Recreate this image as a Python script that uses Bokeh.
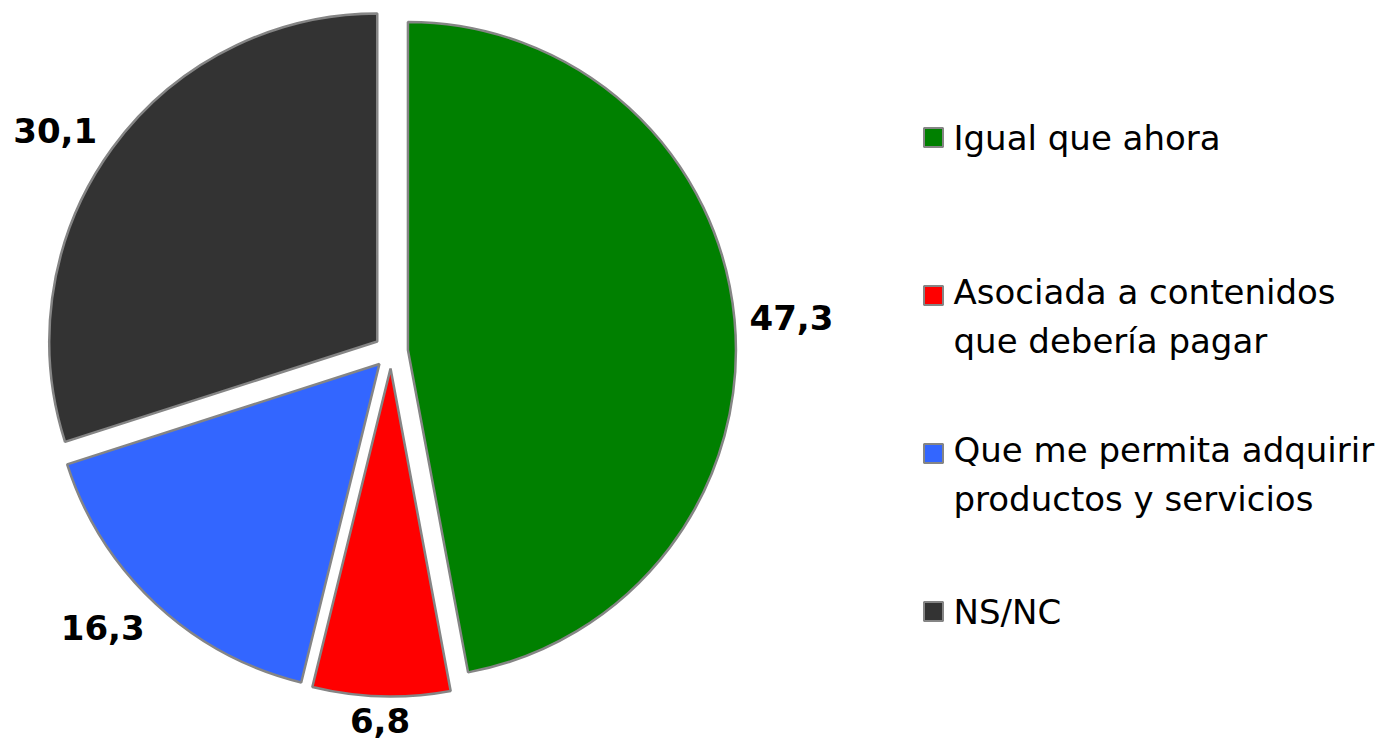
import math
from bokeh.plotting import figure
from bokeh.models import Range1d, ColumnDataSource
from bokeh.core.properties import value
from bokeh.embed import file_html
from bokeh.resources import INLINE

# ---- data ----
categories = ["Igual que ahora",
              "Asociada a contenidos\nque debería pagar",
              "Que me permita adquirir\nproductos y servicios",
              "NS/NC"]
values = [47.3, 6.8, 16.3, 30.1]
value_labels = ["47,3", "6,8", "16,3", "30,1"]
colors = ["#008000", "#FF0000", "#3366FF", "#333333"]

# ---- layout ----
W, H = 1386, 755
CX, CY = 390.5, H - 351
R = 328
EXPLODE = 17
GAP_X, GAP_Y = 15, 7
LBL_FS = 34
LEG_FS = 34
LEG_SQ_X, LEG_TXT_X = 933, 953
LEG_Y0 = H - 137
LEG_STEP = 158
LEG_LH = 42
OUTLINE = "#858585"

p = figure(width=W, height=H, x_range=Range1d(0, W), y_range=Range1d(0, H),
           output_backend="svg", toolbar_location=None, min_border=0)
p.axis.visible = False
p.grid.visible = False
p.outline_line_color = None
p.background_fill_color = "white"
p.border_fill_color = "white"

total = sum(values)
xs, ys, sa, ea = [], [], [], []
lx, ly = [], []
cum = 0.0
for v, lab in zip(values, value_labels):
    t1 = cum / total * 2 * math.pi
    cum += v
    t2 = cum / total * 2 * math.pi
    mid = (t1 + t2) / 2
    ux, uy = math.sin(mid), math.cos(mid)
    xs.append(CX + EXPLODE * ux)
    ys.append(CY + EXPLODE * uy)
    sa.append(math.pi / 2 - t1)
    ea.append(math.pi / 2 - t2)
    # label placement: text box just outside the exploded slice's arc
    nd = sum(c.isdigit() for c in lab)
    nc = lab.count(",")
    hw = 0.5 * LBL_FS * (0.696 * nd + 0.38 * nc)
    hh = 0.5 * LBL_FS
    m = max(abs(ux), abs(uy))
    ex, ey = (R + EXPLODE) * ux, (R + EXPLODE) * uy
    lx.append(CX + ex + ux / m * (hw + GAP_X))
    ly.append(CY + ey + uy / m * (hh + GAP_Y))

src = ColumnDataSource(dict(x=xs, y=ys, sa=sa, ea=ea, color=colors))
p.wedge(x="x", y="y", radius=R, start_angle="sa", end_angle="ea",
        direction="clock", fill_color="color", line_color=OUTLINE,
        line_width=2.5, source=src)

p.text(x=lx, y=ly, text=value_labels, text_align="center",
       text_baseline="middle", text_font=value("DejaVu Sans"),
       text_font_style="bold", text_font_size=value(f"{LBL_FS}px"),
       text_color="black")

# legend
sq_y, tx_y = [], []
for i, cat in enumerate(categories):
    y0 = LEG_Y0 - i * LEG_STEP
    n = cat.count("\n") + 1
    sq_y.append(y0)
    tx_y.append(y0 - (n - 1) * LEG_LH / 2)

p.rect(x=[LEG_SQ_X] * len(categories), y=sq_y, width=19, height=19,
       width_units="screen", height_units="screen",
       fill_color=colors, line_color=OUTLINE, line_width=2)
p.text(x=[LEG_TXT_X] * len(categories), y=tx_y, text=categories,
       text_align="left", text_baseline="middle",
       text_font=value("DejaVu Sans"), text_font_size=value(f"{LEG_FS}px"),
       text_line_height=LEG_LH / LEG_FS, text_color="black")

open("out.html", "w").write(file_html(p, INLINE))
